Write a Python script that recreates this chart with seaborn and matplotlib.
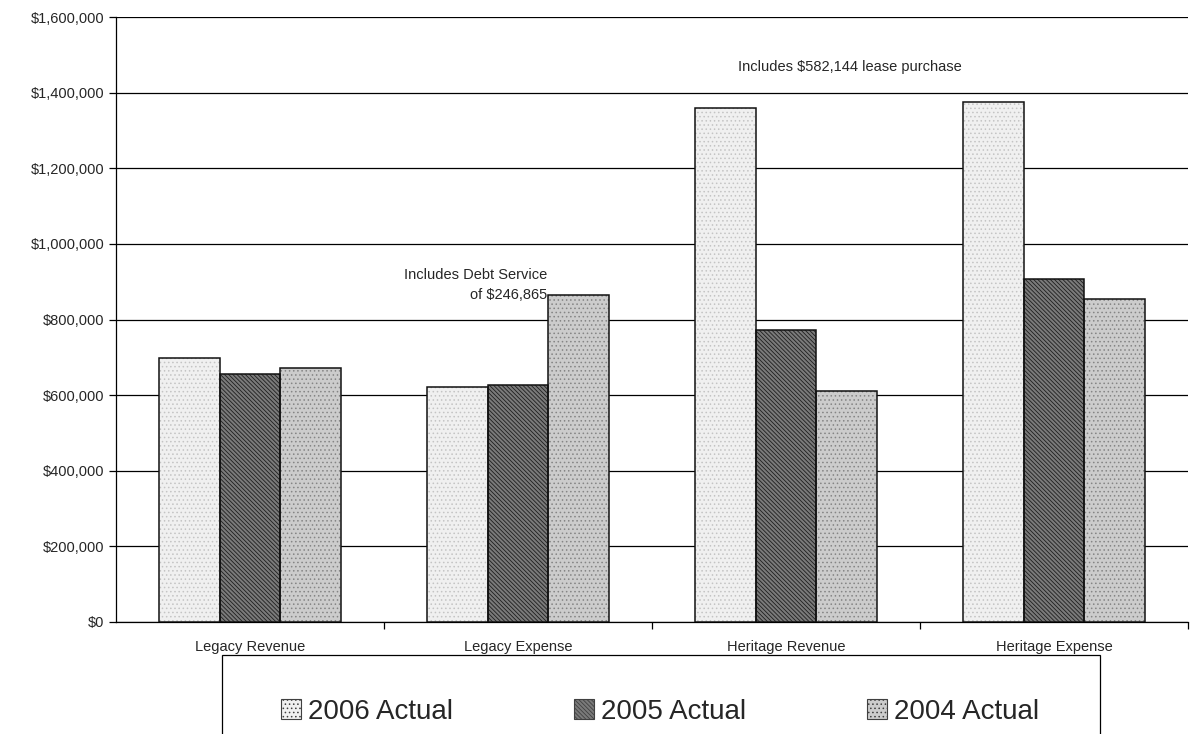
import numpy as np
import pandas as pd
import matplotlib
matplotlib.use("Agg")
import matplotlib.pyplot as plt
import matplotlib.patches as mpatches
from matplotlib.ticker import FuncFormatter, MultipleLocator, FixedLocator
import seaborn as sns

categories = ["Legacy Revenue", "Legacy Expense", "Heritage Revenue", "Heritage Expense"]
years = ["2006 Actual", "2005 Actual", "2004 Actual"]
actual_2006 = [698000, 622000, 1360000, 1375000]
actual_2005 = [655000, 626000, 772000, 907000]
actual_2004 = [673000, 866000, 612000, 853000]

df = pd.DataFrame({
    "category": categories * 3,
    "year": [years[0]] * 4 + [years[1]] * 4 + [years[2]] * 4,
    "value": actual_2006 + actual_2005 + actual_2004,
})

# face colour, hatch, hatch colour per series
styles = {
    "2006 Actual": ("#f0f0f0", "....", "#c4c4c4"),
    "2005 Actual": ("#7a7a7a", "\\\\\\\\\\\\\\\\", "#1e1e1e"),
    "2004 Actual": ("#cccccc", "....", "#858585"),
}

sns.set_style("white")
plt.rcParams["font.family"] = ["Liberation Sans", "DejaVu Sans"]
plt.rcParams["hatch.linewidth"] = 0.6

fig = plt.figure(figsize=(12.03, 7.34), dpi=100)
ax = fig.add_axes([0.0964, 0.1526, 0.8911, 0.8242])

sns.barplot(data=df, x="category", y="value", hue="year", hue_order=years,
            palette={k: v[0] for k, v in styles.items()}, width=0.68, gap=0,
            edgecolor="black", linewidth=0, legend=False, ax=ax, zorder=3)

for cont, yr in zip(ax.containers, years):
    face, hatch, hcol = styles[yr]
    for p in cont.patches:
        p.set_hatch(hatch)
        p.set_edgecolor(hcol)
        p.set_linewidth(0)
        outline = mpatches.Rectangle(p.get_xy(), p.get_width(), p.get_height(),
                                     fill=False, edgecolor="#111111", linewidth=1.1, zorder=4)
        ax.add_patch(outline)

ax.set_ylim(0, 1600000)
ax.set_xlim(-0.5, 3.5)
ax.yaxis.set_major_locator(MultipleLocator(200000))
ax.yaxis.set_major_formatter(FuncFormatter(lambda v, _: f"${v:,.0f}"))
ax.grid(axis="y", color="black", linewidth=0.9, zorder=0)
ax.set_axisbelow(True)
ax.set_xlabel("")
ax.set_ylabel("")

for s in ["top", "right"]:
    ax.spines[s].set_visible(False)
for s in ["left", "bottom"]:
    ax.spines[s].set_color("black")
    ax.spines[s].set_linewidth(0.9)

ax.tick_params(axis="y", which="major", direction="out", length=5, width=0.9,
               color="black", labelsize=10.5, left=True)
ax.tick_params(axis="x", which="major", length=0, labelsize=10.5, pad=13)
ax.xaxis.set_minor_locator(FixedLocator([0.5, 1.5, 2.5, 3.5]))
ax.tick_params(axis="x", which="minor", direction="out", length=5, width=0.9,
               color="black", bottom=True)

ax.text(1.11, 918000, "Includes Debt Service", ha="right", va="center", fontsize=10.5)
ax.text(1.11, 865000, "of $246,865", ha="right", va="center", fontsize=10.5)
ax.text(2.24, 1468000, "Includes $582,144 lease purchase", ha="center", va="center", fontsize=10.5)

# legend box (runs off the bottom edge like the original)
box = mpatches.Rectangle((222 / 1203, -0.05), (1100 - 222) / 1203, 1 - 655 / 734 + 0.05,
                         transform=fig.transFigure, fill=False, edgecolor="black",
                         linewidth=0.9, clip_on=False)
fig.patches.append(box)

handles = [mpatches.Patch(facecolor=styles[y][0], hatch=styles[y][1], edgecolor="#404040",
                          linewidth=0.8, label=y) for y in years]
fig.legend(handles=handles, loc="center", ncol=3, bbox_to_anchor=(660 / 1203, 1 - 712 / 734),
           fontsize=20, frameon=False, handlelength=0.72, handleheight=0.72,
           handletextpad=0.25, columnspacing=4.35, borderpad=0, borderaxespad=0)

fig.savefig("out.png", dpi=100)
